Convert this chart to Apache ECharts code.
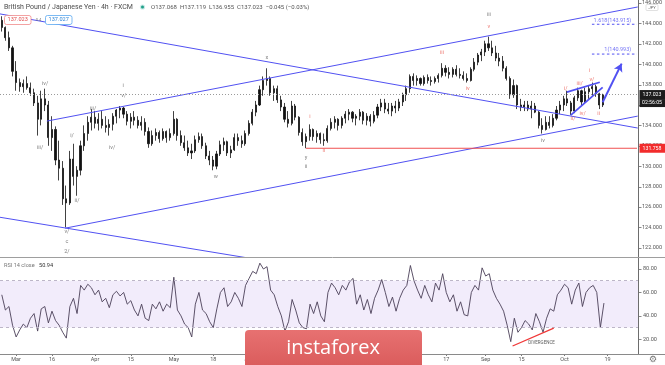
<!DOCTYPE html>
<html><head><meta charset="utf-8">
<script src="https://cdn.jsdelivr.net/npm/echarts/dist/echarts.min.js"></script>
<style>html,body{margin:0;padding:0;background:#fff}#c{width:665px;height:365px}</style>
</head><body><div id="c"></div>
<script>
const FONT = 'Roboto, "Liberation Sans", sans-serif';
const N_DAYS = 178;
const firstDay = '2020-02-25';
const tickDates = ['2020-03-02','2020-03-16','2020-04-01','2020-04-15','2020-05-01','2020-05-18','2020-06-01','2020-06-15','2020-07-01','2020-07-15','2020-08-03','2020-08-17','2020-09-01','2020-09-15','2020-10-01','2020-10-19'];
const tickTexts = ['Mar','16','Apr','15','May','18','Jun','15','Jul','15','Aug','17','Sep','15','Oct','19'];
const priceTicks = [122,124,126,128,130,132,134,136,138,140,142,144,146];
const rsiTicks = [20,40,60,80];

const open = [144.3,143.6,142.6,141.6,139.3,138.2,137.8,138.1,137.7,137.2,136.2,134.6,136.6,136.0,132.8,133.6,130.6,129.8,126.8,126.4,130.7,129.0,129.6,132.0,133.2,134.3,134.8,134.2,134.6,134.0,133.8,134.1,134.9,135.5,135.7,135.1,134.4,134.8,134.5,134.0,134.3,133.4,132.2,133.0,133.3,132.7,133.4,132.8,133.2,134.6,133.0,132.3,131.8,131.3,131.5,132.6,132.9,132.0,131.0,130.6,130.0,131.2,132.1,132.4,131.3,131.6,132.8,132.5,132.2,133.2,134.2,135.3,136.0,137.5,138.4,138.6,137.2,137.6,136.5,135.8,134.6,134.2,135.9,134.8,133.3,132.4,132.9,133.6,132.9,133.2,132.6,132.5,133.7,134.3,134.6,134.0,134.7,135.1,135.3,134.7,134.9,135.3,134.5,134.9,134.4,135.0,135.8,136.2,135.6,135.4,135.9,135.7,136.3,137.0,137.6,138.8,138.4,138.6,138.1,138.7,138.4,138.3,138.6,138.9,139.6,139.2,139.0,139.5,139.0,138.9,138.6,138.4,139.5,140.2,140.9,141.2,142.0,141.6,141.1,140.6,140.3,139.6,138.6,137.0,137.9,136.0,135.8,136.0,135.6,135.9,135.3,134.0,133.6,134.3,134.0,134.7,135.5,136.0,136.6,136.2,135.4,136.7,137.4,136.3,137.3,137.6,137.8,137.1,136.0];
const high = [144.7,143.7,143.2,141.8,140.3,138.6,138.5,138.8,138.2,137.6,136.9,137.4,137.6,136.4,134.9,133.9,132.5,130.5,128.1,131.5,132.2,130.0,132.5,134.0,134.9,135.6,135.4,135.2,135.4,134.9,134.6,135.2,135.6,135.9,135.8,135.4,135.2,135.4,134.9,134.9,134.7,133.8,133.5,133.7,133.5,133.7,133.5,133.7,135.4,134.7,133.5,133.0,132.5,132.2,133.0,133.3,133.2,132.3,131.5,131.0,131.5,132.5,132.8,132.5,132.0,133.2,133.2,133.0,133.5,134.5,135.6,136.4,137.9,138.8,139.6,138.8,137.9,137.9,136.9,136.2,135.4,136.4,136.1,134.9,133.7,133.2,134.1,133.7,133.5,133.3,133.2,134.0,134.7,134.9,134.7,134.9,135.4,135.6,135.4,135.1,135.6,135.4,135.2,135.1,135.4,136.1,136.6,136.6,136.2,136.2,136.4,136.6,137.2,137.9,139.0,139.1,138.9,138.7,138.9,139.0,138.8,138.8,139.1,140.1,139.9,139.7,139.7,139.9,139.6,139.3,139.1,139.7,140.6,141.1,141.5,142.3,142.7,142.3,141.8,141.1,140.8,139.8,138.8,138.5,138.0,136.6,136.4,136.4,136.4,136.2,135.4,134.7,134.9,134.9,135.1,135.9,136.4,136.9,137.4,136.4,136.9,137.7,137.5,137.7,137.9,138.2,138.0,137.2,137.1];
const low = [143.2,142.3,141.3,138.8,137.4,137.3,137.2,137.5,136.9,135.9,133.0,134.0,135.4,132.0,131.5,130.1,128.6,126.2,124.0,126.2,128.1,127.1,129.1,131.5,132.5,133.5,133.7,133.5,133.7,133.3,133.0,133.5,134.2,134.7,134.7,134.0,133.7,134.0,133.7,133.5,133.0,131.8,132.0,132.5,132.3,132.5,132.3,132.5,133.0,132.5,132.0,131.5,131.0,130.7,131.3,132.3,131.7,130.7,130.1,129.6,129.7,131.0,131.5,131.0,130.8,131.5,132.0,131.8,132.0,133.0,134.0,134.9,135.9,136.9,137.9,136.9,136.4,136.2,135.4,134.3,133.8,134.0,134.5,133.0,132.0,131.76,132.5,132.5,132.3,132.2,132.0,132.3,133.5,133.7,133.5,133.7,134.2,134.5,134.3,134.0,134.5,134.1,134.0,133.9,134.2,134.7,135.4,135.2,135.1,134.9,135.2,135.4,135.9,136.4,137.2,137.9,137.9,137.9,137.9,138.1,137.9,138.1,138.2,138.7,138.8,138.6,138.7,138.8,138.6,138.4,138.2,138.3,139.3,139.9,140.3,140.8,141.3,140.8,140.3,139.8,139.3,138.4,136.6,136.7,135.6,135.4,135.4,135.4,134.7,135.2,133.7,133.2,133.5,133.7,133.8,134.5,135.1,135.4,135.9,135.0,135.2,136.4,136.0,136.1,136.6,136.9,136.8,135.6,135.8];
const close = [143.6,142.6,141.6,139.3,138.2,137.8,138.1,137.7,137.2,136.2,134.6,136.6,136.0,132.8,133.6,130.6,129.8,126.8,126.4,130.7,129.0,129.6,132.0,133.2,134.3,134.8,134.2,134.6,134.0,133.8,134.1,134.9,135.5,135.7,135.1,134.4,134.8,134.5,134.0,134.3,133.4,132.2,133.0,133.3,132.7,133.4,132.8,133.2,134.6,133.0,132.3,131.8,131.3,131.5,132.6,132.9,132.0,131.0,130.6,130.0,131.2,132.1,132.4,131.3,131.6,132.8,132.5,132.2,133.2,134.2,135.3,136.0,137.5,138.4,138.6,137.2,137.6,136.5,135.8,134.6,134.2,135.9,134.8,133.3,132.4,132.9,133.6,132.9,133.2,132.6,132.5,133.7,134.3,134.6,134.0,134.7,135.1,135.3,134.7,134.9,135.3,134.5,134.9,134.4,135.0,135.8,136.2,135.6,135.4,135.9,135.7,136.3,137.0,137.6,138.8,138.4,138.6,138.1,138.7,138.4,138.3,138.6,138.9,139.6,139.2,139.0,139.5,139.0,138.9,138.6,138.4,139.5,140.2,140.9,141.2,142.0,141.6,141.1,140.6,140.3,139.6,138.6,137.0,137.9,136.0,135.8,136.0,135.6,135.9,135.3,134.0,133.6,134.3,134.0,134.7,135.5,136.0,136.6,136.2,135.4,136.7,137.4,136.3,137.3,137.6,137.8,137.1,136.0,137.023];
const rsi = [58,45,48,32,22,28,33,30,38,42,27,46,48,34,44,36,32,26,21,48,55,42,66,62,67,64,58,62,52,55,47,58,61,57,60,50,53,45,40,50,38,36,50,46,52,44,50,47,73,45,40,33,30,22,50,60,45,42,35,30,46,60,64,48,52,60,55,48,66,72,78,76,85,80,82,62,58,48,40,27,35,54,45,34,30,29,50,42,52,40,35,60,68,64,58,66,62,69,72,50,58,45,54,42,55,62,71,60,48,56,44,55,62,66,83,70,62,55,66,58,52,68,62,76,60,52,58,44,52,41,40,60,66,62,81,74,76,62,55,50,44,32,18,38,26,30,36,33,28,42,35,26,38,46,44,58,62,67,64,50,62,68,48,60,64,66,60,30,50.94];

const priceMin = 121.095, priceMax = 146.097;
const rsiMin = 7.46, rsiMax = 89.4;
const lastPrice = 137.023;
const supportLevel = 131.758;
const fibLevels = [143.915, 140.993];
const fibTexts = ['1.618(143.915)', '1(140.993)'];
const fibStart = 164.9;
const supportStart = 85.0;
// trendlines in [dayIndex, price]
const trendLines = [
  [[-0.5,144.93],[177.7,133.74]],
  [[12.6,134.42],[177.7,145.61]],
  [[17.7,123.92],[177.7,134.91]],
  [[-0.5,124.99],[68.8,121.0]]
];
const wedgeLines = [
  [[157.9,137.26],[167.1,138.23]],
  [[159.0,135.0],[167.9,137.73]]
];
const arrowLine = [[167.9,136.27],[173.2,140.06]];
const grayLabels = [
  ['iv/',12.1,138.12],['iii/',10.7,131.8],['v/',18.2,123.62],['c',18.2,122.65],['2/',18.2,121.58],
  ['i/',19.6,132.96],['ii/',21.0,126.64],['iii/',25.5,135.69],['iv/',30.8,131.8],['i',33.9,137.92],['v/',34.1,136.95],
  ['w',59.8,128.98],['x',74.1,140.62],['y',85.0,130.83],['ii',85.0,129.96],['iii',136.1,144.88],['iv',151.2,132.48]
];
const redLabels = [
  ['i',86.1,134.84],['ii',90.0,131.53],['iii',123.0,141.13],['iv',130.2,137.63],['v',136.1,143.72],
  ['i/',157.6,137.63],['ii/',159.6,134.71],['iii/',161.5,138.12],['iv/',162.3,135.2],['v/',164.9,138.51],['i',164.3,139.39],['ii',166.8,135.2]
];
const divergenceLine = [[142.5,14.3],[154.0,29.6]];
const divergenceText = ['DIVERGENCE',150.6,16.7];

// trading-day categories
const days = [];
(function(){ const d = new Date(firstDay+'T00:00:00Z'); while(days.length<N_DAYS){ const w=d.getUTCDay(); if(w!==0&&w!==6) days.push(d.toISOString().slice(0,10)); d.setUTCDate(d.getUTCDate()+1);} })();
const candles = open.map((o,i)=>[o, close[i], low[i], high[i]]);

const BLUE = '#5151f2';
const RED = '#e8574f';
const chart = echarts.init(document.getElementById('c'), null, {renderer:'canvas'});

const lineSeries = (pts, w, color, extra) => Object.assign({
  type:'line', xAxisIndex:1, yAxisIndex:0, data:pts, symbol:'none', silent:true, animation:false,
  lineStyle:{color:color, width:w}, z:4
}, extra||{});
const labelSeries = (arr, color) => ({
  type:'scatter', xAxisIndex:1, yAxisIndex:0, symbolSize:0, silent:true, animation:false, z:6,
  data: arr.map(a=>({name:a[0], value:[a[1],a[2]]})),
  label:{show:true, position:'inside', formatter:'{b}', color:color, fontSize:5.5, fontFamily:FONT}
});

const series = [
  {type:'candlestick', xAxisIndex:0, yAxisIndex:0, data:candles, barWidth:1.6, animation:false, z:3,
   itemStyle:{color:'#111', color0:'#111', borderColor:'#111', borderColor0:'#111', borderWidth:0.8},
   markLine:{silent:true, symbol:'none', animation:false, label:{show:false},
     lineStyle:{color:'#9a9a9a', type:[1,2], width:1}, data:[{yAxis:lastPrice}]}}
];
trendLines.forEach(p=>series.push(lineSeries(p,1,BLUE)));
wedgeLines.forEach(p=>series.push(lineSeries(p,1.8,BLUE)));
series.push(lineSeries([[supportStart,supportLevel],[177.5,supportLevel]],1,'#f05050'));
fibLevels.forEach(v=>series.push(lineSeries([[fibStart,v],[177.5,v]],1,BLUE,{lineStyle:{color:BLUE,width:1,type:[2.5,2.5]}})));
series.push({type:'line', xAxisIndex:1, yAxisIndex:0, data:[], silent:true, animation:false, z:5,
  markLine:{silent:true, animation:false, symbol:['none','arrow'], symbolSize:[7,8], label:{show:false},
    lineStyle:{color:BLUE, width:2, type:'solid'},
    data:[[{coord:arrowLine[0]},{coord:arrowLine[1]}]]}});
series.push(labelSeries(grayLabels,'#5e5e5e'));
series.push(labelSeries(redLabels,RED));
series.push({type:'scatter', xAxisIndex:1, yAxisIndex:0, symbolSize:0, silent:true, animation:false,
  data:fibLevels.map((v,k)=>({name:fibTexts[k], value:[177.0,v]})),
  label:{show:true, position:'left', distance:4, offset:[0,-4], formatter:'{b}', color:BLUE, fontSize:5.5, fontFamily:FONT}});
// RSI
series.push({type:'line', xAxisIndex:2, yAxisIndex:1, data:rsi, symbol:'none', animation:false, z:4,
  lineStyle:{color:'#4b4058', width:0.9},
  markArea:{silent:true, itemStyle:{color:'rgba(149,97,226,0.12)'}, data:[[{yAxis:30},{yAxis:70}]]},
  markLine:{silent:true, symbol:'none', animation:false, label:{show:false},
    lineStyle:{color:'#bdb6c8', type:[3,3], width:1}, data:[{yAxis:30},{yAxis:70}]}});
series.push({type:'line', xAxisIndex:3, yAxisIndex:1, data:divergenceLine, symbol:'none', animation:false, z:5,
  lineStyle:{color:'#f03838', width:1.3}});
series.push({type:'scatter', xAxisIndex:3, yAxisIndex:1, symbolSize:0, silent:true, animation:false,
  data:[{name:divergenceText[0], value:[divergenceText[1],divergenceText[2]]}],
  label:{show:true, position:'inside', formatter:'{b}', color:'#333', fontSize:4.5, fontFamily:FONT}});

const isTick = (idx, val) => tickDates.indexOf(val) >= 0;
const axisTxt = {color:'#555', fontSize:5.5, fontFamily:FONT};

const option = {
  animation:false,
  backgroundColor:'#fff',
  grid:[
    {left:0, right:27, top:0, bottom:108},
    {left:0, right:27, top:258, bottom:11}
  ],
  xAxis:[
    {type:'category', gridIndex:0, data:days, boundaryGap:true, show:false},
    {type:'value', gridIndex:0, min:-0.5, max:N_DAYS-0.5, show:false},
    {type:'category', gridIndex:1, data:days, boundaryGap:true,
      axisLine:{show:false}, splitLine:{show:false},
      axisTick:{show:true, interval:isTick, alignWithLabel:true, length:2, lineStyle:{color:'#777'}},
      axisLabel:Object.assign({interval:isTick, margin:3, formatter:v=>tickTexts[tickDates.indexOf(v)]||''}, axisTxt)},
    {type:'value', gridIndex:1, min:-0.5, max:N_DAYS-0.5, show:false}
  ],
  yAxis:[
    {type:'value', gridIndex:0, position:'right', min:priceMin, max:priceMax,
      axisLine:{show:false}, splitLine:{show:false}, axisTick:{show:false},
      axisLabel:Object.assign({margin:5, customValues:priceTicks, formatter:v=>Number(v).toFixed(3)}, axisTxt)},
    {type:'value', gridIndex:1, position:'right', min:rsiMin, max:rsiMax,
      axisLine:{show:false}, splitLine:{show:false}, axisTick:{show:false},
      axisLabel:Object.assign({margin:5, customValues:rsiTicks, formatter:v=>Number(v).toFixed(2)}, axisTxt)}
  ],
  series:series
};
chart.setOption(option);

const pyLast = chart.convertToPixel({yAxisIndex:0}, lastPrice);
const pySup = chart.convertToPixel({yAxisIndex:0}, supportLevel);
const tag = (y, h, bg, txt) => ([
  {type:'rect', shape:{x:639.5, y:y, width:25.5, height:h}, style:{fill:bg}, z:20},
  {type:'text', x:652, y:y+h/2, style:{text:txt, fill:'#fff', fontSize:5.2, fontFamily:FONT, align:'center', verticalAlign:'middle'}, z:21}
]);
const tickMarks = priceTicks.map(v=>chart.convertToPixel({yAxisIndex:0}, v))
  .concat(rsiTicks.map(v=>chart.convertToPixel({yAxisIndex:1}, v)))
  .map(py=>({type:'line', shape:{x1:639, y1:Math.round(py)+0.5, x2:641.5, y2:Math.round(py)+0.5}, style:{stroke:'#888', lineWidth:1}, z:16}));
const graphics = [
  {type:'line', shape:{x1:638.5, y1:0, x2:638.5, y2:354.5}, style:{stroke:'#6d6d6d', lineWidth:1}, z:15},
  {type:'line', shape:{x1:0, y1:257.5, x2:665, y2:257.5}, style:{stroke:'#9e9e9e', lineWidth:1}, z:15},
  {type:'line', shape:{x1:0, y1:354.5, x2:665, y2:354.5}, style:{stroke:'#8a8a8a', lineWidth:1}, z:15},
  {type:'text', x:4, y:7, style:{text:'British Pound / Japanese Yen · 4h · FXCM', fill:'#4d4d4d', fontSize:7, fontFamily:FONT, verticalAlign:'middle'}, z:20},
  {type:'circle', shape:{cx:142.5, cy:7, r:2.6}, style:{fill:'rgba(38,166,154,0.25)'}, z:20},
  {type:'circle', shape:{cx:142.5, cy:7, r:1.5}, style:{fill:'#20a088'}, z:21},
  {type:'text', x:151, y:7, style:{text:'O137.068  H137.119  L136.955  C137.023  −0.045 (−0.03%)', fill:'#555', fontSize:6, fontFamily:FONT, verticalAlign:'middle'}, z:20},
  {type:'rect', shape:{x:4.5, y:15.5, width:26.5, height:9, r:2}, style:{fill:'#fff', stroke:'#f08a8a', lineWidth:0.8}, z:20},
  {type:'text', x:17.7, y:20, style:{text:'137.023', fill:'#e24a4a', fontSize:5.6, fontFamily:FONT, align:'center', verticalAlign:'middle'}, z:21},
  {type:'text', x:38.5, y:20, style:{text:'0.4', fill:'#777', fontSize:4, fontFamily:FONT, align:'center', verticalAlign:'middle'}, z:21},
  {type:'rect', shape:{x:45.5, y:15.5, width:26.5, height:9, r:2}, style:{fill:'#fff', stroke:'#5aa8f0', lineWidth:0.8}, z:20},
  {type:'text', x:58.7, y:20, style:{text:'137.027', fill:'#2d86d8', fontSize:5.6, fontFamily:FONT, align:'center', verticalAlign:'middle'}, z:21},
  {type:'text', x:4, y:266, style:{text:'RSI 14 close', fill:'#777', fontSize:5.6, fontFamily:FONT, verticalAlign:'middle'}, z:20},
  {type:'text', x:39, y:266, style:{text:'50.94', fill:'#333', fontSize:5.6, fontFamily:FONT, verticalAlign:'middle'}, z:20},
  {type:'rect', shape:{x:646, y:4.5, width:12, height:6, r:1}, style:{fill:'#fff', stroke:'#ccc', lineWidth:0.6}, z:20},
  {type:'text', x:652, y:7.5, style:{text:'JPY', fill:'#666', fontSize:4, fontFamily:FONT, align:'center', verticalAlign:'middle'}, z:21},
  {type:'text', x:653, y:360, style:{text:'⚙', fill:'#777', fontSize:9, fontFamily:'DejaVu Sans', align:'center', verticalAlign:'middle'}, z:21},
  {type:'rect', shape:{x:245, y:330, width:177, height:40, r:4},
    style:{fill:new echarts.graphic.LinearGradient(0,0,0,1,[{offset:0,color:'#e77171'},{offset:1,color:'#d95a5a'}])}, z:30},
  {type:'text', x:333, y:348, style:{text:'instaforex', fill:'#fff', fontSize:20, fontFamily:'"Open Sans", Roboto, sans-serif', align:'center', verticalAlign:'middle'}, z:31}
].concat(tickMarks)
 .concat(tag(pyLast-4.5, 9, '#1c1c1c', lastPrice.toFixed(3)))
 .concat(tag(pyLast+4.5, 8, '#1c1c1c', '02:56:05'))
 .concat(tag(pySup-4.5, 9, '#f22c2c', supportLevel.toFixed(3)));
chart.setOption({graphic:graphics});
</script></body></html>
